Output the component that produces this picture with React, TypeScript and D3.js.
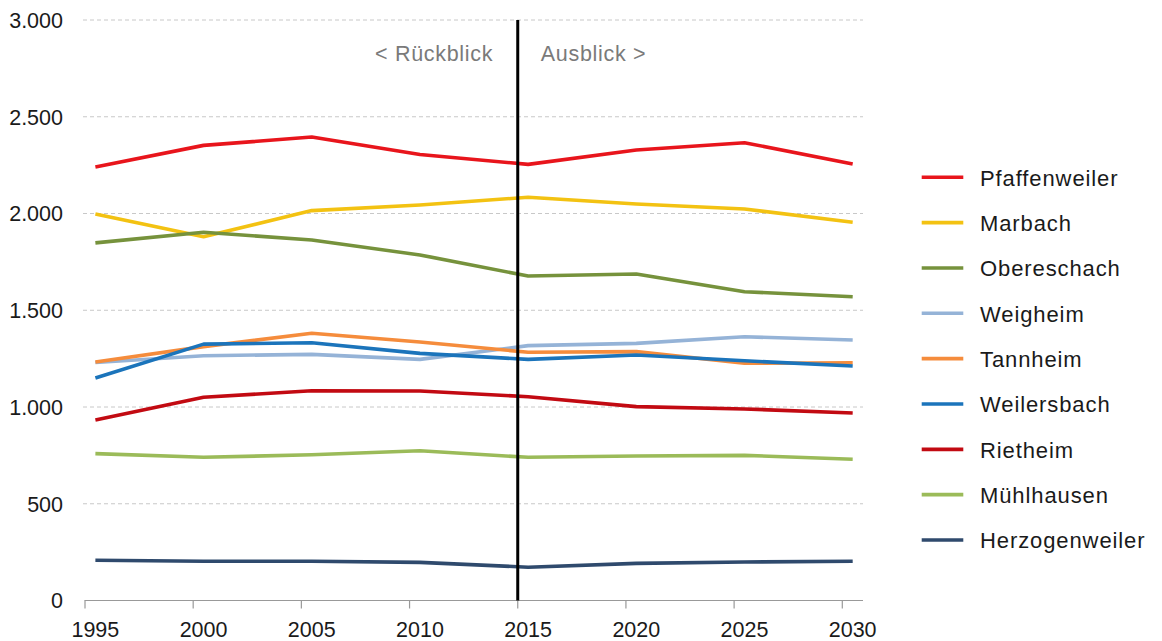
import React from "react";
import * as d3 from "d3";

// Einwohnerentwicklung der Ortsteile, 1995–2030
const years = [1995, 2000, 2005, 2010, 2015, 2020, 2025, 2030];

const seriesNames = [
  "Pfaffenweiler",
  "Marbach",
  "Obereschach",
  "Weigheim",
  "Tannheim",
  "Weilersbach",
  "Rietheim",
  "Mühlhausen",
  "Herzogenweiler",
];

const pfaffenweiler = [2240, 2352, 2395, 2305, 2254, 2328, 2366, 2256];
const marbach = [1998, 1880, 2015, 2044, 2084, 2049, 2023, 1955];
const obereschach = [1848, 1903, 1863, 1786, 1677, 1687, 1596, 1570];
const weigheim = [1230, 1265, 1272, 1246, 1317, 1329, 1363, 1346];
const tannheim = [1233, 1312, 1381, 1336, 1283, 1286, 1226, 1229];
const weilersbach = [1150, 1325, 1332, 1277, 1246, 1269, 1239, 1212];
const rietheim = [933, 1050, 1084, 1083, 1053, 1002, 990, 969];
const muehlhausen = [759, 740, 753, 774, 740, 747, 750, 730];
const herzogenweiler = [208, 203, 203, 197, 172, 192, 199, 203];

const seriesValues = [
  pfaffenweiler,
  marbach,
  obereschach,
  weigheim,
  tannheim,
  weilersbach,
  rietheim,
  muehlhausen,
  herzogenweiler,
];

const seriesColors = [
  "#e8151c",
  "#f3c212",
  "#76923c",
  "#95b3d7",
  "#f58c3c",
  "#1b74bb",
  "#c20a12",
  "#9bbb59",
  "#2f4a6d",
];

const yTicks = [0, 500, 1000, 1500, 2000, 2500, 3000];
const splitYear = 2015;
const leftNote = "< Rückblick";
const rightNote = "Ausblick >";

const W = 1162;
const H = 641;
const FONT = "'Liberation Sans', Arial, Helvetica, sans-serif";

export default function App() {
  const x = d3.scaleLinear().domain([1995, 2030]).range([85, 842.3]);
  // points sit half a year to the right of each tick
  const pointYear = (yr: number) => yr + 0.48;
  const y = d3.scaleLinear().domain([0, 3000]).range([600.5, 20]);
  const plotRight = 863;

  const line = d3
    .line<number>()
    .x((_, i) => x(pointYear(years[i])))
    .y((v) => y(v));

  const fmt = (v: number) => d3.format(",")(v).replace(/,/g, ".");

  const legendY = d3
    .scaleLinear()
    .domain([0, seriesNames.length - 1])
    .range([177.3, 540]);

  return (
    <svg
      width={W}
      height={H}
      style={{ position: "fixed", left: 0, top: 0, background: "#fff" }}
      fontFamily={FONT}
    >
      {/* grid */}
      {yTicks
        .filter((t) => t > 0)
        .map((t) => (
          <line
            key={t}
            x1={83}
            x2={plotRight}
            y1={y(t)}
            y2={y(t)}
            stroke="#c8c8c8"
            strokeWidth={1}
            strokeDasharray="4 3"
          />
        ))}

      {/* y labels */}
      {yTicks.map((t) => (
        <text
          key={t}
          x={63}
          y={y(t) + 7.8}
          textAnchor="end"
          fontSize={21.5}
          fill="#1a1a1a"
        >
          {fmt(t)}
        </text>
      ))}

      {/* x axis */}
      <line x1={84.5} x2={plotRight} y1={y(0)} y2={y(0)} stroke="#999" strokeWidth={1.2} />
      {years.map((yr) => (
        <g key={yr}>
          <line x1={x(yr)} x2={x(yr)} y1={y(0)} y2={y(0) + 8} stroke="#999" strokeWidth={1.2} />
          <text
            x={x(pointYear(yr))}
            y={636.7}
            textAnchor="middle"
            fontSize={21.5}
            fill="#1a1a1a"
          >
            {yr}
          </text>
        </g>
      ))}

      {/* series */}
      {seriesValues.map((vals, i) => (
        <path
          key={seriesNames[i]}
          d={line(vals) ?? ""}
          fill="none"
          stroke={seriesColors[i]}
          strokeWidth={3.6}
          strokeLinejoin="round"
        />
      ))}

      {/* divider between past and forecast */}
      <line
        x1={x(splitYear)}
        x2={x(splitYear)}
        y1={y(3000)}
        y2={y(0)}
        stroke="#000"
        strokeWidth={3}
      />
      <text
        x={x(splitYear) - 24.5}
        y={61}
        textAnchor="end"
        fontSize={21.5}
        letterSpacing={0.7}
        fill="#7a7a7a"
      >
        {leftNote}
      </text>
      <text
        x={x(splitYear) + 23}
        y={61}
        textAnchor="start"
        fontSize={21.5}
        letterSpacing={0.7}
        fill="#7a7a7a"
      >
        {rightNote}
      </text>

      {/* legend */}
      {seriesNames.map((name, i) => (
        <g key={name}>
          <line
            x1={921.7}
            x2={963.3}
            y1={legendY(i)}
            y2={legendY(i)}
            stroke={seriesColors[i]}
            strokeWidth={3.6}
          />
          <text
            x={980}
            y={legendY(i) + 8.3}
            fontSize={22}
            letterSpacing={0.9}
            fill="#1a1a1a"
          >
            {name}
          </text>
        </g>
      ))}
    </svg>
  );
}
